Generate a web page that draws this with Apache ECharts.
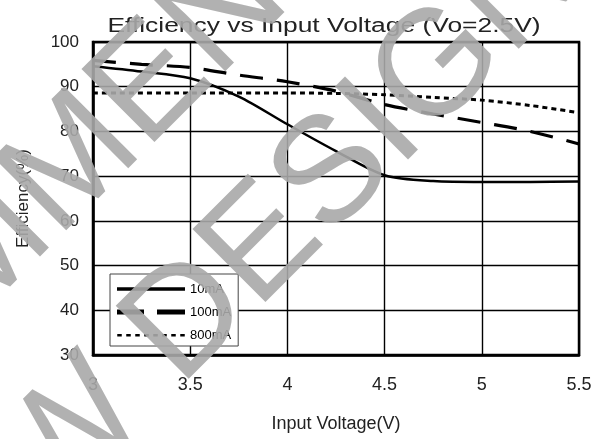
<!DOCTYPE html>
<html><head><meta charset="utf-8">
<script src="https://cdn.jsdelivr.net/npm/echarts@6/dist/echarts.min.js"></script>
<style>html,body{margin:0;padding:0;background:#fff}#c{width:608px;height:439px}</style>
</head><body><div id="c"></div>
<script>
// ---- data ----
const titleText = 'Efficiency vs Input Voltage (Vo=2.5V)';
const xName = 'Input Voltage(V)';
const yName = 'Efficiency(%)';
const seriesNames = ['10mA', '100mA', '800mA'];
const xTickLabels = ['3', '3.5', '4', '4.5', '5', '5.5'];
const yTickLabels = ['30', '40', '50', '60', '70', '80', '90', '100'];

const v10mA   = [3.0, 3.25, 3.5, 3.75, 4.0, 4.25, 4.5, 4.75, 5.0, 5.25, 5.5];
const eff10mA = [94.6, 93.4, 91.9, 87.8, 81.6, 75.6, 70.2, 68.9, 68.7, 68.7, 68.8];

const v100mA   = [3.0, 3.25, 3.5, 3.75, 4.0, 4.25, 4.5, 4.75, 5.0, 5.25, 5.5];
const eff100mA = [95.9, 95.0, 94.3, 92.6, 91.1, 89.0, 86.0, 83.9, 82.0, 80.0, 77.2];

const v800mA   = [3.0, 3.5, 4.0, 4.25, 4.5, 4.75, 5.0, 5.25, 5.5];
const eff800mA = [88.6, 88.6, 88.6, 88.5, 88.2, 87.6, 87.0, 85.8, 84.2];

const watermarkLines = ['NOT RECOMMENDED', 'FOR NEW DESIGN'];

// ---- chart ----
const zip = (xs, ys) => xs.map((x, i) => [x, ys[i]]);
const FONT = '"Liberation Sans", Arial, sans-serif';
const chart = echarts.init(document.getElementById('c'), null, {renderer: 'canvas'});

const legendIcons = [
  'path://M0,0L0,0ZM0,10L0,10ZM0,3.2H68V6.8H0Z',
  'path://M0,0L0,0ZM0,10L0,10ZM0,2.5H27V7.5H0ZM40,2.5H68V7.5H40Z',
  'path://M0,0L0,0ZM0,10L0,10ZM0,4H4.5V6.5H0ZM9,4H13.5V6.5H9ZM18,4H22.5V6.5H18ZM27,4H31.5V6.5H27ZM36,4H40.5V6.5H36ZM45,4H49.5V6.5H45ZM54,4H58.5V6.5H54ZM63,4H67.5V6.5H63Z'
];

const option = {
  backgroundColor: '#fff',
  animation: false,
  grid: {left: 93, right: 29, top: 42, bottom: 84, show: true, borderColor: '#000', borderWidth: 2.5, backgroundColor: 'transparent'},
  xAxis: {
    type: 'value', min: 3, max: 5.5, interval: 0.5,
    name: xName, nameLocation: 'middle', nameGap: 60,
    nameTextStyle: {fontFamily: FONT, fontSize: 18, color: '#222'},
    axisLine: {show: true, lineStyle: {color: '#000', width: 2.5}},
    axisTick: {show: false},
    axisLabel: {margin: 21, fontFamily: FONT, fontSize: 18, color: '#222',
      formatter: (v, i) => xTickLabels[i]},
    splitLine: {show: true, lineStyle: {color: '#000', width: 1.4}}
  },
  yAxis: {
    type: 'value', min: 30, max: 100, interval: 10,
    name: yName, nameLocation: 'middle', nameGap: 61,
    nameTextStyle: {fontFamily: FONT, fontSize: 17, color: '#222'},
    axisLine: {show: true, lineStyle: {color: '#000', width: 2.5}},
    axisTick: {show: false},
    axisLabel: {margin: 14, fontFamily: FONT, fontSize: 17, color: '#222',
      formatter: (v, i) => yTickLabels[i]},
    splitLine: {show: true, lineStyle: {color: '#000', width: 1.4}}
  },
  legend: {
    orient: 'vertical', left: 110, top: 274,
    padding: [8, 7, 4, 7], itemGap: 9, itemWidth: 68, itemHeight: 10,
    borderColor: '#444', borderWidth: 1, backgroundColor: '#fff',
    selectedMode: false,
    itemStyle: {borderWidth: 0},
    textStyle: {fontFamily: FONT, fontSize: 13, color: '#000', lineHeight: 14},
    data: seriesNames.map((n, i) => ({name: n, icon: legendIcons[i]}))
  },
  graphic: [
    {type: 'text', x: 324, y: 26, scaleX: 1.32, z: 50,
      style: {text: titleText, font: '20px ' + FONT, fill: '#222',
        align: 'center', verticalAlign: 'middle', textAlign: 'center', textVerticalAlign: 'middle'}},
    {type: 'text', x: -66, y: 304, rotation: Math.PI / 4, z: 100, silent: true,
      style: {text: watermarkLines[0], font: '150px ' + FONT, fill: '#a8a8a8', opacity: 0.9,
        align: 'center', verticalAlign: 'middle', textAlign: 'center', textVerticalAlign: 'middle'}},
    {type: 'text', x: 89, y: 420, rotation: Math.PI / 4, z: 100, silent: true,
      style: {text: watermarkLines[1], font: '150px ' + FONT, fill: '#a8a8a8', opacity: 0.9,
        align: 'center', verticalAlign: 'middle', textAlign: 'center', textVerticalAlign: 'middle'}}
  ],
  series: [
    {name: seriesNames[0], type: 'line', data: zip(v10mA, eff10mA), smooth: 0.3,
      showSymbol: false, symbol: 'none', color: '#000', lineStyle: {color: '#000', width: 2.5}},
    {name: seriesNames[1], type: 'line', data: zip(v100mA, eff100mA), smooth: 0.3,
      showSymbol: false, symbol: 'none', color: '#000', lineStyle: {color: '#000', width: 3.2, type: [23, 14]}},
    {name: seriesNames[2], type: 'line', data: zip(v800mA, eff800mA), smooth: 0.3,
      showSymbol: false, symbol: 'none', color: '#000', lineStyle: {color: '#000', width: 3, type: [5, 4]}}
  ]
};
chart.setOption(option);
</script>
</body></html>
